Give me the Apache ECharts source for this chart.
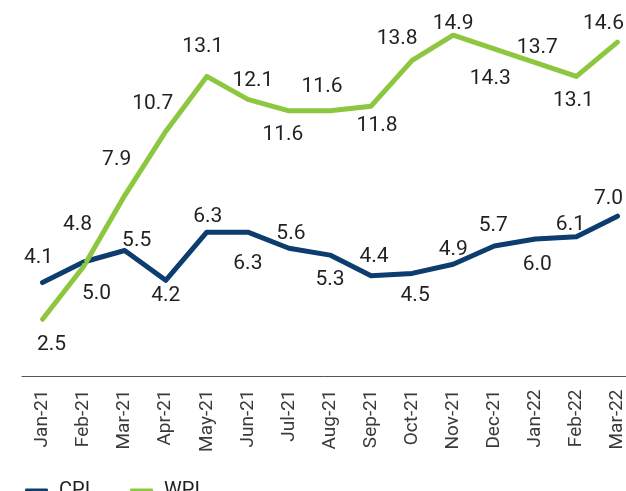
<!DOCTYPE html>
<html>
<head>
<meta charset="utf-8">
<script src="https://cdn.jsdelivr.net/npm/echarts@6/dist/echarts.min.js"></script>
<style>
  html, body { margin: 0; padding: 0; background: #fff; }
  #main { width: 626px; height: 491px; }
</style>
</head>
<body>
<div id="main"></div>
<script>
var months = ['Jan-21', 'Feb-21', 'Mar-21', 'Apr-21', 'May-21', 'Jun-21', 'Jul-21', 'Aug-21',
              'Sep-21', 'Oct-21', 'Nov-21', 'Dec-21', 'Jan-22', 'Feb-22', 'Mar-22'];
var cpi = [4.1, 5.0, 5.5, 4.2, 6.3, 6.3, 5.6, 5.3, 4.4, 4.5, 4.9, 5.7, 6.0, 6.1, 7.0];
var wpi = [2.5, 4.8, 7.9, 10.7, 13.1, 12.1, 11.6, 11.6, 11.8, 13.8, 14.9, 14.3, 13.7, 13.1, 14.6];

// where each value label sits, relative to its point [dx, dy]
var cpiLabelOffset = [[-4, -25], [13, 32], [12, -10], [0, 15], [1, -15], [0, 32], [2, -14], [0, 25],
                      [3, -19], [3, 22], [0, -15], [-1, -20], [2, 26], [-6, -12], [-9, -17]];
var wpiLabelOffset = [[9, 26], [-6, -42], [-8, -36], [-13, -28], [-4, -30], [5, -19], [-6, 24], [-8, -24],
                      [6, 20], [-15, -22], [0, -11], [-4, 30], [2, -15], [-3, 24], [-14, -18]];

function withLabels(values, offsets) {
    return values.map(function (v, i) {
        return { value: v, label: { offset: offsets[i] } };
    });
}

var myChart = echarts.init(document.getElementById('main'));

var labelStyle = {
    show: true,
    position: 'inside',
    align: 'center',
    verticalAlign: 'middle',
    fontFamily: 'Roboto',
    fontSize: 21,
    color: '#231f20',
    formatter: function (p) { return p.value.toFixed(1); }
};

var option = {
    animation: false,
    grid: { left: 22, width: 616, top: 10, bottom: 114.5, containLabel: false, outerBoundsMode: 'none' },
    legend: {
        left: 20,
        top: 476,
        itemGap: 40,
        itemWidth: 23,
        itemHeight: 5,
        icon: 'roundRect',
        textStyle: { fontFamily: 'Roboto', fontSize: 20, color: '#231f20', padding: [0, 0, 0, 6] },
        data: ['CPI', 'WPI']
    },
    xAxis: {
        type: 'category',
        data: months,
        boundaryGap: true,
        axisLine: { lineStyle: { color: '#555', width: 1 } },
        axisTick: { inside: true, length: 7, lineStyle: { color: '#555' } },
        axisLabel: { rotate: 90, margin: 13, fontFamily: 'Roboto', fontSize: 19, color: '#3a3a3a', interval: 0 }
    },
    yAxis: {
        type: 'value',
        min: 0,
        max: 16,
        show: false
    },
    series: [
        {
            name: 'CPI',
            type: 'line',
            data: withLabels(cpi, cpiLabelOffset),
            symbol: 'circle',
            symbolSize: 2,
            lineStyle: { width: 5, color: '#0c3d6e', cap: 'round', join: 'round' },
            itemStyle: { color: '#0c3d6e' },
            label: labelStyle
        },
        {
            name: 'WPI',
            type: 'line',
            data: withLabels(wpi, wpiLabelOffset),
            symbol: 'circle',
            symbolSize: 2,
            lineStyle: { width: 5, color: '#8dc63f', cap: 'round', join: 'round' },
            itemStyle: { color: '#8dc63f' },
            label: labelStyle
        }
    ]
};

option && myChart.setOption(option);
</script>
</body>
</html>
